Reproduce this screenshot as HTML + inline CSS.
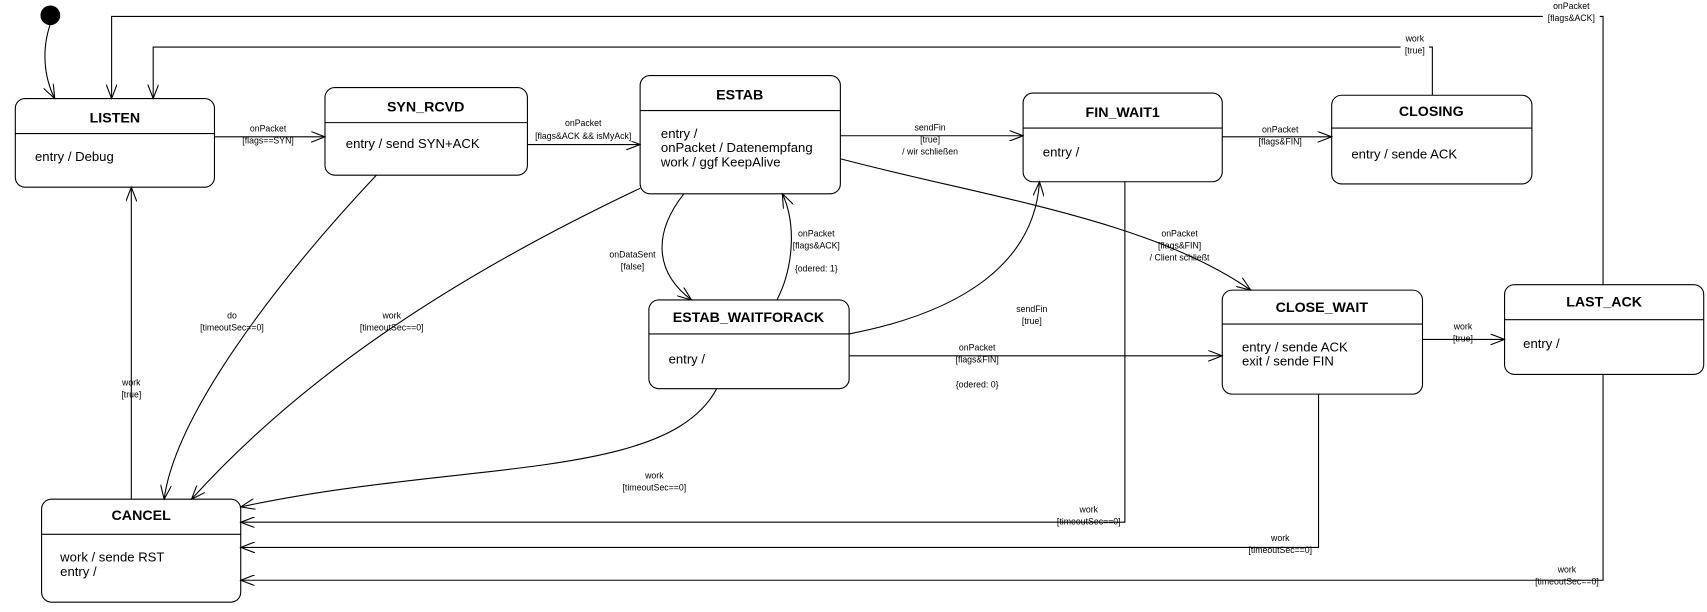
<!DOCTYPE html>
<html><head><meta charset="utf-8"><style>
html,body{margin:0;padding:0;background:#fff;width:1707px;height:612px;overflow:hidden}
svg{display:block}
text{font-family:"Liberation Sans",sans-serif;fill:#000}
.t{font-size:13px;font-weight:bold;text-anchor:middle}
.b{font-size:12px}
.l{font-size:8px;text-anchor:middle}
.s{fill:#fff;stroke:#000;stroke-width:1}
.c{fill:none;stroke:#000;stroke-width:1}
</style></head><body>
<svg width="1707" height="612" viewBox="0 0 1560 559" preserveAspectRatio="none">
<defs><marker id="a" markerWidth="14" markerHeight="10" refX="13" refY="5" orient="auto" markerUnits="userSpaceOnUse"><path d="M0,0 L13,5 L0,10" fill="none" stroke="#000"/></marker></defs>
<circle cx="46" cy="14" r="9" fill="#000"/>
<!-- states -->
<rect class="s" x="14" y="90" width="182" height="81" rx="9"/><line class="c" x1="14" y1="122" x2="196" y2="122"/><text class="t" x="105" y="112">LISTEN</text><text class="b" x="32" y="147">entry / Debug</text>
<rect class="s" x="297" y="80" width="185" height="80" rx="9"/><line class="c" x1="297" y1="112" x2="482" y2="112"/><text class="t" x="389" y="102">SYN_RCVD</text><text class="b" x="316" y="135">entry / send SYN+ACK</text>
<rect class="s" x="585" y="69" width="183" height="108" rx="9"/><line class="c" x1="585" y1="101" x2="768" y2="101"/><text class="t" x="676" y="91">ESTAB</text><text class="b" x="604" y="126">entry /</text><text class="b" x="604" y="139">onPacket / Datenempfang</text><text class="b" x="604" y="152">work / ggf KeepAlive</text>
<rect class="s" x="935" y="85" width="182" height="81" rx="9"/><line class="c" x1="935" y1="117" x2="1117" y2="117"/><text class="t" x="1026" y="107">FIN_WAIT1</text><text class="b" x="953" y="143">entry /</text>
<rect class="s" x="1217" y="87" width="183" height="81" rx="9"/><line class="c" x1="1217" y1="117" x2="1400" y2="117"/><text class="t" x="1308" y="106">CLOSING</text><text class="b" x="1235" y="145">entry / sende ACK</text>
<rect class="s" x="593" y="274" width="183" height="81" rx="9"/><line class="c" x1="593" y1="305" x2="776" y2="305"/><text class="t" x="684" y="294">ESTAB_WAITFORACK</text><text class="b" x="611" y="332">entry /</text>
<rect class="s" x="1117" y="265" width="183" height="95" rx="9"/><line class="c" x1="1117" y1="296" x2="1300" y2="296"/><text class="t" x="1208" y="285">CLOSE_WAIT</text><text class="b" x="1135" y="321">entry / sende ACK</text><text class="b" x="1135" y="334">exit / sende FIN</text>
<rect class="s" x="1375" y="260" width="182" height="82" rx="9"/><line class="c" x1="1375" y1="292" x2="1557" y2="292"/><text class="t" x="1466" y="280">LAST_ACK</text><text class="b" x="1392" y="318">entry /</text>
<rect class="s" x="38" y="456" width="182" height="94" rx="9"/><line class="c" x1="38" y1="488" x2="220" y2="488"/><text class="t" x="129" y="475">CANCEL</text><text class="b" x="55" y="513">work / sende RST</text><text class="b" x="55" y="526">entry /</text>
<!-- connectors -->
<path class="c" d="M46,22 C38,45 40,70 50,90" marker-end="url(#a)"/>
<path class="c" d="M1465,260 L1465,15 L102,15 L102,90" marker-end="url(#a)"/>
<path class="c" d="M1309,87 L1309,43 L140,43 L140,90" marker-end="url(#a)"/>
<path class="c" d="M196,125 L297,125" marker-end="url(#a)"/>
<path class="c" d="M482,132 L585,132" marker-end="url(#a)"/>
<path class="c" d="M768,124 L935,124" marker-end="url(#a)"/>
<path class="c" d="M1117,125 L1217,125" marker-end="url(#a)"/>
<path class="c" d="M768,145 C900,180 1050,200 1143,265" marker-end="url(#a)"/>
<path class="c" d="M625,177 C595,215 600,250 632,274" marker-end="url(#a)"/>
<path class="c" d="M710,274 C725,245 728,205 715,177" marker-end="url(#a)"/>
<path class="c" d="M776,305 C880,285 945,240 950,166" marker-end="url(#a)"/>
<path class="c" d="M776,325 L1117,325" marker-end="url(#a)"/>
<path class="c" d="M1300,310 L1375,310" marker-end="url(#a)"/>
<path class="c" d="M1465,342 L1465,530 L220,530" marker-end="url(#a)"/>
<path class="c" d="M1205,360 L1205,500 L220,500" marker-end="url(#a)"/>
<path class="c" d="M1028,166 L1028,477 L220,477" marker-end="url(#a)"/>
<path class="c" d="M655,355 C610,440 420,420 220,463" marker-end="url(#a)"/>
<path class="c" d="M344,160 C250,260 160,380 150,456" marker-end="url(#a)"/>
<path class="c" d="M585,172 C420,250 280,340 175,456" marker-end="url(#a)"/>
<path class="c" d="M120,456 L120,171" marker-end="url(#a)"/>
<!-- labels -->
<g class="l">
<rect x="1410" y="0" width="52" height="21" fill="#fff"/><text x="1436" y="8">onPacket</text><text x="1436" y="19">[flags&amp;ACK]</text>
<rect x="1280" y="30" width="26" height="21" fill="#fff"/><text x="1293" y="38">work</text><text x="1293" y="49">[true]</text>
<text x="245" y="120">onPacket</text><text x="245" y="131">[flags==SYN]</text>
<rect x="484" y="117" width="98" height="12" fill="#fff"/><text x="533" y="115">onPacket</text><text x="533" y="127">[flags&amp;ACK &amp;&amp; isMyAck]</text>
<text x="850" y="119">sendFin</text><text x="850" y="130">[true]</text><text x="850" y="141">/ wir schließen</text>
<text x="1170" y="121">onPacket</text><text x="1170" y="132">[flags&amp;FIN]</text>
<text x="1078" y="216">onPacket</text><text x="1078" y="227">[flags&amp;FIN]</text><text x="1078" y="238">/ Client schließt</text>
<text x="578" y="235">onDataSent</text><text x="578" y="246">[false]</text>
<text x="746" y="216">onPacket</text><text x="746" y="227">[flags&amp;ACK]</text><text x="746" y="248">{odered: 1}</text>
<text x="943" y="285">sendFin</text><text x="943" y="296">[true]</text>
<text x="893" y="320">onPacket</text><text x="893" y="331">[flags&amp;FIN]</text><text x="893" y="354">{odered: 0}</text>
<text x="1337" y="301">work</text><text x="1337" y="312">[true]</text>
<text x="1432" y="523">work</text><text x="1432" y="534">[timeoutSec==0]</text>
<text x="1170" y="494">work</text><text x="1170" y="505">[timeoutSec==0]</text>
<text x="995" y="468">work</text><text x="995" y="479">[timeoutSec==0]</text>
<text x="598" y="437">work</text><text x="598" y="448">[timeoutSec==0]</text>
<text x="212" y="291">do</text><text x="212" y="302">[timeoutSec==0]</text>
<text x="358" y="291">work</text><text x="358" y="302">[timeoutSec==0]</text>
<text x="120" y="352">work</text><text x="120" y="363">[true]</text>
</g>
</svg>
</body></html>
